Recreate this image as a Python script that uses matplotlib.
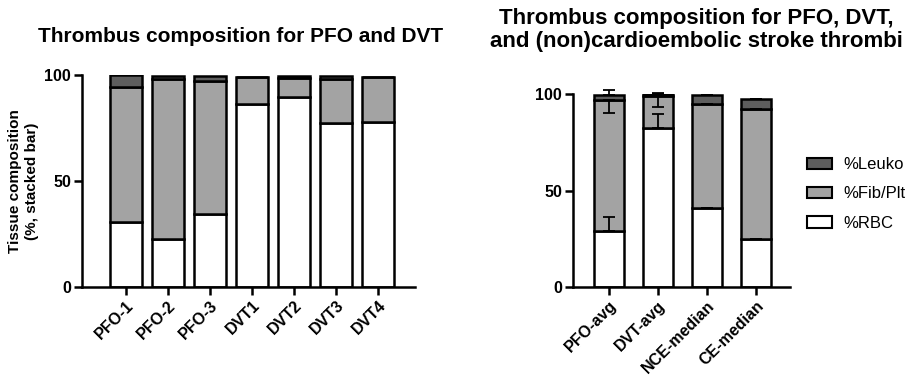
import numpy as np
import matplotlib
matplotlib.use("Agg")
import matplotlib.pyplot as plt
from matplotlib.patches import Patch

plt.rcParams['font.family'] = ['Liberation Sans', 'DejaVu Sans']

# left panel: individual thrombi
left_names = ["PFO-1", "PFO-2", "PFO-3", "DVT1", "DVT2", "DVT3", "DVT4"]
left_rbc = [30.7, 22.8, 34.6, 86.1, 89.8, 77.5, 77.6]
left_fib = [63.8, 75.3, 62.7, 12.9, 8.6, 20.5, 21.6]
left_leuko = [5.5, 1.4, 2.2, 0.0, 1.3, 1.7, 0.0]

# right panel: group averages / medians
right_names = ["PFO-avg", "DVT-avg", "NCE-median", "CE-median"]
right_rbc = [29.1, 82.3, 40.7, 25.1]
right_fib = [67.6, 16.5, 54.1, 67.1]
right_leuko = [3.0, 1.0, 4.5, 5.2]
# error bars (PFO-avg and DVT-avg only)
rbc_err_up = [7.3, 7.3, 0, 0]
fib_err_down = [6.6, 5.6, 0, 0]
leuko_err_up = [2.5, 0.7, 0, 0]

c_rbc = "white"
c_fib = "#a3a3a3"
c_leuko = "#5e5e5e"
lw = 1.8

fig = plt.figure(figsize=(9.13, 3.82), dpi=100)
ax1 = fig.add_axes([82/913, 1-287/382, (415-82)/913, (287-75)/382])
ax2 = fig.add_axes([573/913, 1-287/382, (790-573)/913, (287-94)/382])


def stacked(ax, names, rbc, fib, leuko, width):
    x = np.arange(len(names))
    rbc = np.array(rbc)
    fib = np.array(fib)
    leuko = np.array(leuko)
    ax.bar(x, rbc, width, color=c_rbc, edgecolor="black", linewidth=lw, zorder=2)
    ax.bar(x, fib, width, bottom=rbc, color=c_fib, edgecolor="black", linewidth=lw, zorder=2)
    ax.bar(x, leuko, width, bottom=rbc + fib, color=c_leuko, edgecolor="black", linewidth=lw, zorder=2)
    ax.set_xticks(x)
    ax.set_xticklabels(names, rotation=45, ha="right", rotation_mode="anchor",
                       fontsize=11.5, fontweight="bold")
    ax.set_ylim(0, 100)
    ax.set_yticks([0, 50, 100])
    for lab in ax.get_yticklabels():
        lab.set_fontweight("bold")
        lab.set_fontsize(11.5)
    for s in ["top", "right"]:
        ax.spines[s].set_visible(False)
    for s in ["left", "bottom"]:
        ax.spines[s].set_linewidth(1.8)
    ax.tick_params(width=1.8, length=6, pad=2)
    return x, rbc, fib, leuko


stacked(ax1, left_names, left_rbc, left_fib, left_leuko, 0.76)
ax1.set_xlim(-1.05, 6.88)
ax1.set_ylabel("Tissue composition\n(%, stacked bar)", fontsize=11, fontweight="bold", labelpad=4)
fig.text(241/913, 1-36/382, "Thrombus composition for PFO and DVT",
         ha="center", va="center", fontsize=15, fontweight="bold")

x, rbc, fib, leuko = stacked(ax2, right_names, right_rbc, right_fib, right_leuko, 0.61)
ax2.set_xlim(-0.73, 3.69)
ekw = dict(fmt="none", ecolor="black", elinewidth=1.3, capsize=4.5, capthick=1.3, zorder=3)
z = np.zeros(len(x))
for yv, err in [(rbc, [z, rbc_err_up]), (rbc + fib, [fib_err_down, z]),
                (rbc + fib + leuko, [z, leuko_err_up])]:
    eb = ax2.errorbar(x, yv, yerr=err, **ekw)
    for art in eb.lines[1] + eb.lines[2]:
        art.set_clip_on(False)
fig.text(696/913, 1-30/382, "Thrombus composition for PFO, DVT,\nand (non)cardioembolic stroke thrombi",
         ha="center", va="center", fontsize=16, fontweight="bold", linespacing=1.1)

handles = [Patch(facecolor=c_leuko, edgecolor="black", linewidth=1.5, label="%Leuko"),
           Patch(facecolor=c_fib, edgecolor="black", linewidth=1.5, label="%Fib/Plt"),
           Patch(facecolor=c_rbc, edgecolor="black", linewidth=1.5, label="%RBC")]
fig.legend(handles=handles, loc="center left", bbox_to_anchor=(792/913, 1-194/382),
           frameon=False, fontsize=12, handlelength=1.5, handleheight=0.7,
           labelspacing=0.85, handletextpad=0.7)

fig.savefig("out.png", dpi=100)
